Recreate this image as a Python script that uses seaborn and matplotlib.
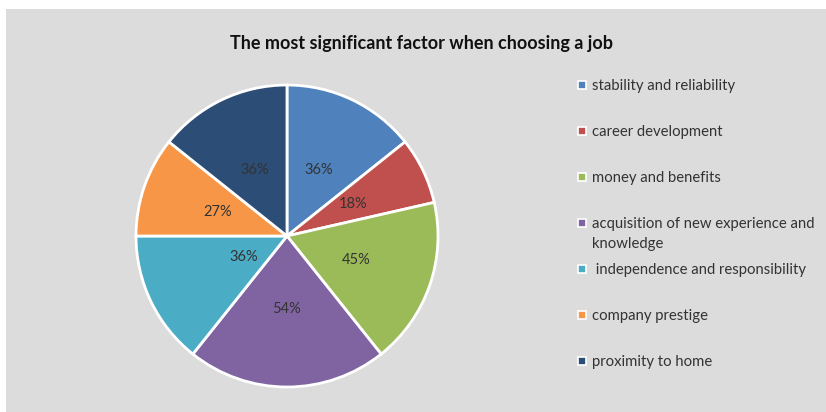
import matplotlib
matplotlib.use("Agg")
import matplotlib.pyplot as plt
from matplotlib.patches import Rectangle
import seaborn as sns

# Share of respondents naming each factor (%)
factors = [
    "stability and reliability",
    "career development",
    "money and benefits",
    "acquisition of new experience and\nknowledge",
    " independence and responsibility",
    "company prestige",
    "proximity to home",
]
shares = [36, 18, 45, 54, 36, 27, 36]
colors = ["#4F81BD", "#C0504D", "#9BBB59", "#8064A2", "#4BACC6", "#F79646", "#2C4D75"]
title = "The most significant factor when choosing a job"

sns.set_theme(style="white")
plt.rcParams["font.family"] = ["Lato", "DejaVu Sans"]

W, H = 826, 412
fig = plt.figure(figsize=(W / 100, H / 100), dpi=100)
fig.patch.set_facecolor("white")

# grey chart area
fig.add_artist(Rectangle((6 / W, 0), 1 - 6 / W, (H - 9) / H,
                         transform=fig.transFigure, facecolor="#DCDCDC",
                         edgecolor="none", zorder=0))

cx, cy, r = 287, 236, 151
ax = fig.add_axes([(cx - r) / W, (H - cy - r) / H, 2 * r / W, 2 * r / H])
ax.set_facecolor("none")

palette = sns.color_palette(colors)
total = sum(shares)
wedges, texts, autotexts = ax.pie(
    shares,
    colors=palette,
    startangle=90,
    counterclock=False,
    autopct=lambda p: f"{round(p * total / 100)}%",
    pctdistance=0.485,
    wedgeprops=dict(edgecolor="white", linewidth=2),
    textprops=dict(color="#333333", fontsize=10.5),
)
# pull the independence label a bit closer to the centre
x, y = autotexts[4].get_position()
autotexts[4].set_position((x * 0.66, y * 0.66))
ax.set_xlim(-1, 1)
ax.set_ylim(-1, 1)
ax.set_aspect("equal")
ax.axis("off")

fig.text(421 / W, 1 - 43 / H, title, ha="center", va="center",
         fontsize=13, fontweight="bold", color="#111111")

# legend: square key + label, one row every 46 px
y0, step = 85, 46
for i, (lab, col) in enumerate(zip(factors, colors)):
    yy = y0 + i * step
    fig.add_artist(Rectangle((578 / W, 1 - (yy + 4) / H), 8 / W, 8 / H,
                             transform=fig.transFigure, facecolor=col,
                             edgecolor="white", linewidth=1.2, zorder=3))
    fig.text(592 / W, 1 - (yy - 6) / H, lab, ha="left", va="top",
             fontsize=10.7, color="#333333", linespacing=1.55)

fig.savefig("out.png", dpi=100)
